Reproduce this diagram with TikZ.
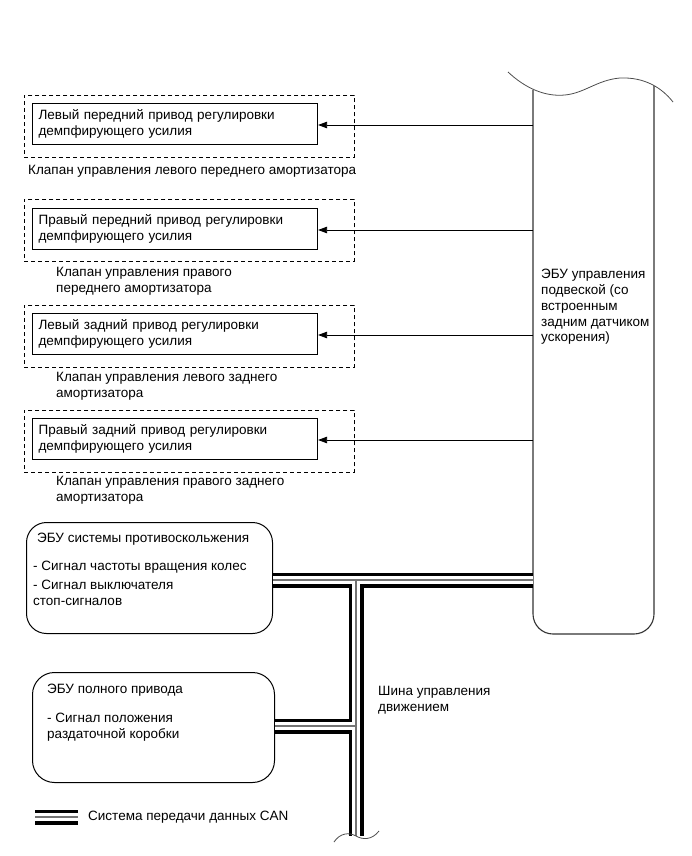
\documentclass[tikz,border=0pt]{standalone}
\usepackage{fontspec}
\setmainfont{Liberation Sans}
\usetikzlibrary{arrows.meta,calc}
\begin{document}
\begin{tikzpicture}[x=1pt,y=-1pt,
  txt/.style={font=\fontsize{13.5}{15.8}\selectfont, align=left, inner sep=0pt, anchor=west},
  valvebox/.style={draw, line width=1.1pt, rectangle, inner xsep=6pt, inner ysep=0pt,
    text width=273pt, minimum height=41pt, align=left, anchor=north west,
    font=\fontsize{13.5}{16.5}\selectfont},
  dashbox/.style={draw, line width=0.9pt, dash pattern=on 4pt off 3pt, rectangle,
    minimum width=330pt, minimum height=62pt, anchor=north west, inner sep=0pt},
  sig/.style={line width=0.8pt, -{Triangle[length=9pt,width=6.5pt]}},
  rbox/.style={draw, line width=1pt, rectangle, anchor=north west, inner sep=0pt},
  wall/.style={line width=1.1pt, black!80},
  wave/.style={line width=0.8pt, black!70},
  busblack/.style={line width=15pt, black},
  buswhite/.style={line width=7.5pt, white},
  busthin/.style={line width=1.2pt, black!55},
]
\useasboundingbox (0,0) rectangle (692,856);

% suspension ECU
\draw[wall, rounded corners=20pt] (533,90) -- (533,634) -- (654,634) -- (654,86);
\draw[wave] (508,72) .. controls (525,88) and (545,97) .. (565,95)
  .. controls (585,93) and (597,80) .. (620,78)
  .. controls (645,77) and (662,88) .. (673,102);
\node[txt, anchor=north west] (ecu) at (541,269) {ЭБУ управления\\подвеской (со\\встроенным\\задним датчиком\\ускорения)};

% damper valves
\node[dashbox] (d1) at (24,95) {};
\node[valvebox] (v1) at (32,103) {Левый передний привод регулировки\\демпфирующего усилия};
\node[txt] (l1) at (28,171) {Клапан управления левого переднего амортизатора};

\node[dashbox] (d2) at (24,199) {};
\node[valvebox] (v2) at (32,208) {Правый передний привод регулировки\\демпфирующего усилия};
\node[txt] (l2) at (56,281) {Клапан управления правого\\переднего амортизатора};

\node[dashbox] (d3) at (24,305) {};
\node[valvebox] (v3) at (32,313) {Левый задний привод регулировки\\демпфирующего усилия};
\node[txt] (l3) at (56,386) {Клапан управления левого заднего\\амортизатора};

\node[dashbox] (d4) at (24,410) {};
\node[valvebox] (v4) at (32,418) {Правый задний привод регулировки\\демпфирующего усилия};
\node[txt] (l4) at (56,490) {Клапан управления правого заднего\\амортизатора};

\coordinate (e1) at (533,125);
\coordinate (e2) at (533,230);
\coordinate (e3) at (533,335);
\coordinate (e4) at (533,440);
\draw[sig] (e1) -- (e1 -| v1.east);
\draw[sig] (e2) -- (e2 -| v2.east);
\draw[sig] (e3) -- (e3 -| v3.east);
\draw[sig] (e4) -- (e4 -| v4.east);

% ABS ECU
\node[rbox, rounded corners=20pt, minimum width=246pt, minimum height=111pt] (abs) at (26,522) {};
\node[txt] (a1) at (37,539) {ЭБУ системы противоскольжения};
\node[txt] (a2) at (33,567) {- Сигнал частоты вращения колес};
\node[txt] (a3) at (33,593) {- Сигнал выключателя\\стоп-сигналов};

% 4WD ECU
\node[rbox, rounded corners=22pt, minimum width=242pt, minimum height=110pt] (awd) at (32,672) {};
\node[txt] (w1) at (47,690) {ЭБУ полного привода};
\node[txt] (w2) at (47,727) {- Сигнал положения\\раздаточной коробки};

% CAN bus
\coordinate (busL) at (abs.east |- 0,580);
\coordinate (busR) at (533,580);
\coordinate (busT) at (356,580);
\coordinate (busB) at (356,836);
\coordinate (brL) at (awd.east |- 0,726);
\coordinate (brR) at (356,726);
\coordinate (lgL) at (35,817);
\coordinate (lgR) at (78,817);
\foreach \s in {busblack,buswhite,busthin}{
  \draw[\s] (busL) -- (busR);
  \draw[\s] (busT) -- (busB);
  \draw[\s] (brL) -- (brR);
  \draw[\s] (lgL) -- (lgR);
}
\draw[wave] (334,842) .. controls (340,833) and (349,832) .. (356,836)
  .. controls (363,840) and (372,840) .. (379,831);

\node[txt] (bus) at (378,700) {Шина управления\\движением};
\node[txt] (lg) at (88,817) {Система передачи данных CAN};
\end{tikzpicture}
\end{document}
